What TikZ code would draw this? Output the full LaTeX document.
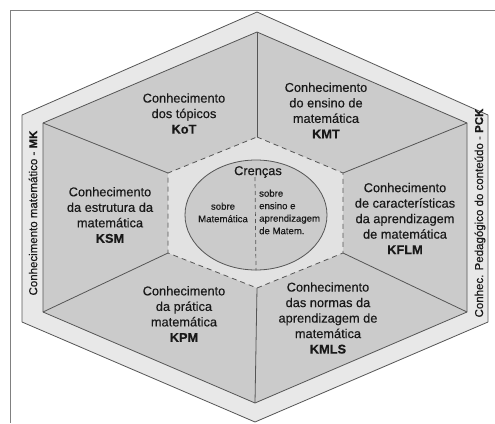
\documentclass[tikz,border=0pt]{standalone}
\usepackage{fontspec}
\setmainfont{Liberation Sans}[FakeBold=0.35]
\usetikzlibrary{shapes.geometric}
\definecolor{bandgray}{HTML}{E8E8E8}
\definecolor{partgray}{HTML}{CBCBCB}
\definecolor{coregray}{HTML}{E2E2E2}
\definecolor{linegray}{HTML}{555555}
\begin{document}
\begin{tikzpicture}[x=1pt, y=-1pt, line join=round,
  edge/.style={draw=linegray, line width=0.8pt},
  part/.style={font=\fontsize{12.8}{15.5}\selectfont, align=center, inner sep=0pt, text=black!90},
  small/.style={font=\fontsize{9.6}{12.5}\selectfont, inner sep=0pt, text=black!90},
  side/.style={font=\fontsize{11.5}{13}\selectfont, rotate=90, inner sep=0pt, text=black!90}]
\useasboundingbox (0,0) rectangle (495,423);
% frame
\draw[black!50, line width=1pt] (495,10) -- (10,10) -- (10,423);
% hexagon corners: outer band, knowledge ring, core
\coordinate (o1) at (257,12);  \coordinate (o2) at (488,115); \coordinate (o3) at (488,322);
\coordinate (o4) at (255,422); \coordinate (o5) at (22,322);  \coordinate (o6) at (22,115);
\coordinate (i1) at (257,32);  \coordinate (i2) at (467,123); \coordinate (i3) at (467,312);
\coordinate (i4) at (255,403); \coordinate (i5) at (43,312);  \coordinate (i6) at (43,123);
\coordinate (c1) at (257,137); \coordinate (c2) at (343,173); \coordinate (c3) at (343,253);
\coordinate (c4) at (257,288); \coordinate (c5) at (168,253); \coordinate (c6) at (168,173);
\filldraw[edge, fill=bandgray] (o1) -- (o2) -- (o3) -- (o4) -- (o5) -- (o6) -- cycle;
\filldraw[edge, fill=partgray] (i1) -- (i2) -- (i3) -- (i4) -- (i5) -- (i6) -- cycle;
\fill[coregray] (c1) -- (c2) -- (c3) -- (c4) -- (c5) -- (c6) -- cycle;
\draw[edge, dashed, dash pattern=on 5pt off 4pt] (c1) -- (c2) -- (c3) -- (c4) -- (c5) -- (c6) -- cycle;
\foreach \k in {1,...,6}
  \draw[edge] (i\k) -- (c\k);
% beliefs
\node[ellipse, edge, fill=partgray, minimum width=142pt, minimum height=110pt, inner sep=0pt] (cren) at (256,215) {};
\coordinate (split) at (255,177);
\draw[linegray, line width=0.7pt, dashed, dash pattern=on 4pt off 3pt] (split) -- (cren.south);
\node[part] (crenca) at (258,172) {Crenças};
\node[small, align=center] (sobmat) at (223,212.5) {sobre\\Matemática};
\node[small, align=left, anchor=west] (sobens) at (259,212) {sobre\\ensino e\\aprendizagem\\de Matem.};
% subdomains
\node[part] (kot) at (184,113.5) {Conhecimento\\dos tópicos\\\textbf{KoT}};
\node[part] (kmt) at (326,110.5) {Conhecimento\\do ensino de\\matemática\\\textbf{KMT}};
\node[part] (ksm) at (110,215) {Conhecimento\\da estrutura da\\matemática\\\textbf{KSM}};
\node[part] (kflm) at (405,218.5) {Conhecimento\\de características\\da aprendizagem\\de matemática\\\textbf{KFLM}};
\node[part] (kpm) at (184,314) {Conhecimento\\da prática\\matemática\\\textbf{KPM}};
\node[part] (kmls) at (328,318) {Conhecimento\\das normas da\\aprendizagem de\\matemática\\\textbf{KMLS}};
% domains
\node[side] (mk) at (33,213) {Conhecimento matemático - \textbf{MK}};
\node[side] (pck) at (480,213) {Conhec. Pedagógico do conteúdo - \textbf{PCK}};
\end{tikzpicture}
\end{document}
